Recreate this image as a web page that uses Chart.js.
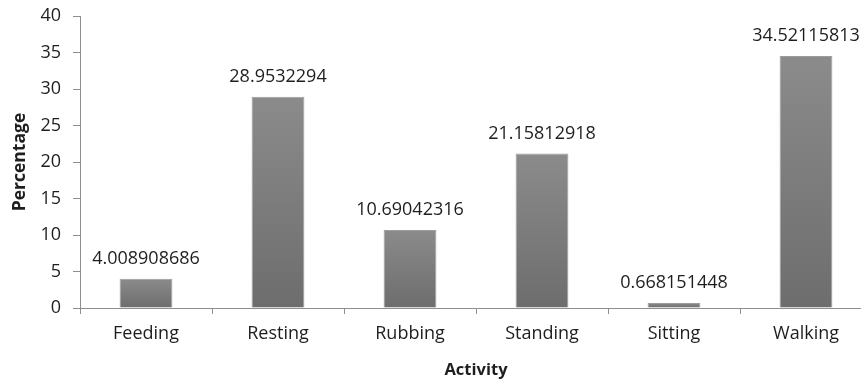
<!DOCTYPE html>
<html lang="en">
<head>
    <meta charset="UTF-8">
    <title>Activity Percentage</title>
    <script src="https://cdn.jsdelivr.net/npm/chart.js"></script>
    <style>
        html, body { margin: 0; padding: 0; background: #fff; overflow: hidden; }
        .chart-box { width: 880px; height: 381px; }
    </style>
</head>
<body>
    <div class="chart-box">
        <canvas id="activityChart"></canvas>
    </div>
    <script>
        // Data
        const activities = ['Feeding', 'Resting', 'Rubbing', 'Standing', 'Sitting', 'Walking'];
        const percentages = [4.008908686, 28.9532294, 10.69042316, 21.15812918, 0.668151448, 34.52115813];
        const valueLabels = ['4.008908686', '28.9532294', '10.69042316', '21.15812918', '0.668151448', '34.52115813'];

        const FONT = '"Open Sans", "Liberation Sans", sans-serif';
        const AXIS_GREY = '#8e8e8e';

        // Gradient per bar: lighter at the top, darker at the base
        function barFill(context) {
            const chart = context.chart;
            const yScale = chart.scales.y;
            if (!yScale || !chart.chartArea) return '#7d7d7d';
            const top = yScale.getPixelForValue(context.raw);
            const base = yScale.getPixelForValue(0);
            const g = chart.ctx.createLinearGradient(0, top, 0, base);
            g.addColorStop(0, '#8b8b8b');
            g.addColorStop(1, '#6d6d6d');
            return g;
        }

        // Writes the value above every bar
        const valueLabelPlugin = {
            id: 'valueLabels',
            afterDatasetsDraw(chart) {
                const ctx = chart.ctx;
                const meta = chart.getDatasetMeta(0);
                ctx.save();
                ctx.font = '18px ' + FONT;
                ctx.fillStyle = '#1e1e1e';
                ctx.textAlign = 'center';
                ctx.textBaseline = 'alphabetic';
                meta.data.forEach((bar, i) => {
                    ctx.fillText(valueLabels[i], bar.x, bar.y - 15);
                });
                ctx.restore();
            }
        };

        new Chart(document.getElementById('activityChart'), {
            type: 'bar',
            data: {
                labels: activities,
                datasets: [{
                    data: percentages,
                    backgroundColor: barFill,
                    borderColor: '#9c9c9c',
                    borderWidth: 1,
                    categoryPercentage: 1,
                    barPercentage: 0.4
                }]
            },
            options: {
                responsive: true,
                maintainAspectRatio: false,
                animation: false,
                layout: { padding: { top: 16, right: 8, left: 0, bottom: 0 } },
                plugins: {
                    legend: { display: false },
                    tooltip: { enabled: false }
                },
                scales: {
                    x: {
                        grid: {
                            offset: true,
                            drawOnChartArea: false,
                            drawTicks: true,
                            tickLength: 6,
                            color: AXIS_GREY
                        },
                        border: { color: AXIS_GREY },
                        ticks: {
                            color: '#1e1e1e',
                            font: { family: FONT, size: 18 },
                            padding: 9,
                            maxRotation: 0
                        },
                        title: {
                            display: true,
                            text: 'Activity',
                            color: '#1e1e1e',
                            font: { family: FONT, size: 16.5, weight: 'bold' },
                            padding: { top: 0, bottom: 1 }
                        },
                        afterFit(scale) { scale.height = 73; }
                    },
                    y: {
                        min: 0,
                        max: 40,
                        grid: {
                            drawOnChartArea: false,
                            drawTicks: true,
                            tickLength: 7,
                            color: AXIS_GREY
                        },
                        border: { color: AXIS_GREY },
                        ticks: {
                            stepSize: 5,
                            color: '#1e1e1e',
                            font: { family: FONT, size: 18 },
                            padding: 12
                        },
                        title: {
                            display: true,
                            text: 'Percentage',
                            color: '#1e1e1e',
                            font: { family: FONT, size: 17.5, weight: 'bold' },
                            padding: { top: 10, bottom: 0 }
                        },
                        afterFit(scale) {
                            scale.width = 80;
                            // let the layout padding alone decide where 40 sits
                            scale.paddingTop = 0;
                            scale.paddingBottom = 0;
                        }
                    }
                }
            },
            plugins: [valueLabelPlugin]
        });
    </script>
</body>
</html>
